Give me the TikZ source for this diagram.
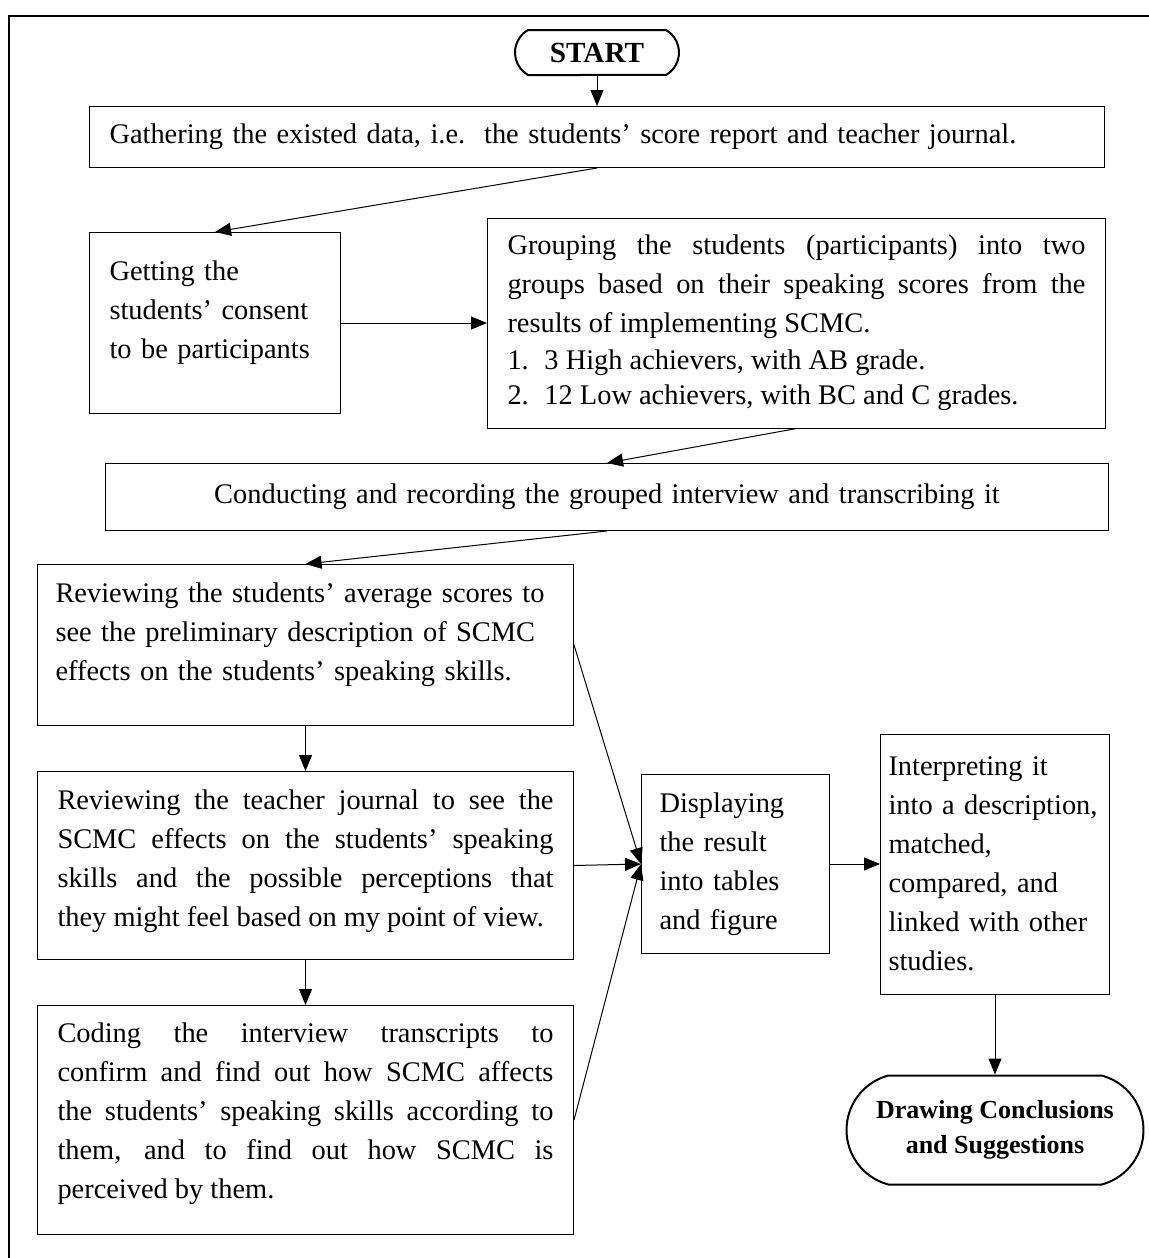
\documentclass[tikz,border=0pt]{standalone}
\usepackage{fontspec}
\setmainfont{Liberation Serif}
\usetikzlibrary{positioning,arrows.meta,shapes.misc}

\tikzset{
  stepbox/.style={draw, line width=0.5pt, anchor=north west, inner xsep=10pt,
    inner ysep=2pt, font=\fontsize{14.2}{19.5}\selectfont},
  terminal/.style={draw, line width=1pt, rounded rectangle, inner sep=2pt,
    font=\bfseries\fontsize{14.6}{19.5}\selectfont}
}

\begin{document}
\begin{tikzpicture}[x=0.5pt, y=-0.5pt, line width=0.5pt,
    >={Triangle[length=8pt,width=6.5pt]}]
  \useasboundingbox (0,0) rectangle (1149,1258);
  % outer frame
  \draw[line width=1.15pt] (9,1275) -- (9,16) -- (1165,16);

  \node[terminal, minimum width=86pt, minimum height=22.5pt,
        rounded rectangle arc length=120] (start) at (597,52.5) {START};
  \node[stepbox, text width=487.5pt, minimum height=30.5pt, align=left]
        (gather) at (89,106)
        {Gathering the existed data, i.e.\ \ the students' score report and teacher journal.};
  \node[stepbox, text width=105.5pt, minimum height=90.5pt, align=left]
        (consent) at (89,232)
        {Getting the\\ students' consent\\ to be participants\par\kern10pt};
  \node[stepbox, text width=289pt, minimum height=105pt, align=justify]
        (group) [right=73pt of consent]
        {Grouping the students (participants) into two\linebreak
         groups based on their speaking scores from the\linebreak
         results of implementing SCMC.\par\kern-1pt
         \makebox[18.5pt][l]{1.}3 High achievers, with AB grade.\par\kern-2pt
         \makebox[18.5pt][l]{2.}12 Low achievers, with BC and C grades.};
  \node[stepbox, text width=481.5pt, minimum height=33.5pt, align=center]
        (conduct) at (105,463)
        {Conducting and recording the grouped interview and transcribing it};
  \node[stepbox, inner xsep=9pt, text width=250pt, minimum height=80.5pt, align=left]
        (review) at (37,564)
        {Reviewing the students' average scores to\\
         see the preliminary description of SCMC\\
         effects on the students' speaking skills.\par\kern10pt};
  \node[stepbox, text width=248pt, minimum height=94pt, align=justify]
        (journal) [below=22.5pt of review]
        {Reviewing the teacher journal to see the\linebreak
         SCMC effects on the students' speaking\linebreak
         skills and the possible perceptions that\linebreak
         they might feel based on my point of view.\par\kern4pt};
  \node[stepbox, text width=248pt, minimum height=114.5pt, align=justify]
        (coding) [below=22.5pt of journal]
        {Coding the interview transcripts to\linebreak
         confirm and find out how SCMC affects\linebreak
         the students' speaking skills according to\linebreak
         them, and to find out how SCMC is\linebreak
         perceived by them.\par\kern6pt};
  \node[stepbox, inner xsep=9pt, text width=76pt, minimum height=89.5pt, align=left]
        (display) at (641,774)
        {Displaying\\ the result\\ into tables\\ and figure};
  \node[stepbox, inner xsep=4pt, text width=106.5pt, minimum height=130pt, align=left]
        (interp) [right=25pt of display]
        {Interpreting it\\ \mbox{into a description,}\\ matched,\\ compared, and\\ linked with other\\ studies.};
  \node[terminal, minimum width=152.5pt, minimum height=54.5pt, align=center,
        rounded rectangle arc length=150, font=\bfseries\fontsize{13}{17.5}\selectfont]
        (drawing) [below=40pt of interp]
        {Drawing Conclusions\\ and Suggestions};

  \path[->]
    (start.south)   edge (gather.north)
    (gather.south)  edge (consent.north)
    (consent)       edge (group)
    (group.south)   edge (conduct.north)
    (conduct.south) edge (review.north)
    (review)        edge (journal)
    (journal)       edge (coding)
    (review.east)   edge (display.west)
    (journal.east)  edge (display.west)
    (coding.east)   edge (display.west)
    (display)       edge (interp)
    (interp.south)  edge (drawing.north);
\end{tikzpicture}
\end{document}
